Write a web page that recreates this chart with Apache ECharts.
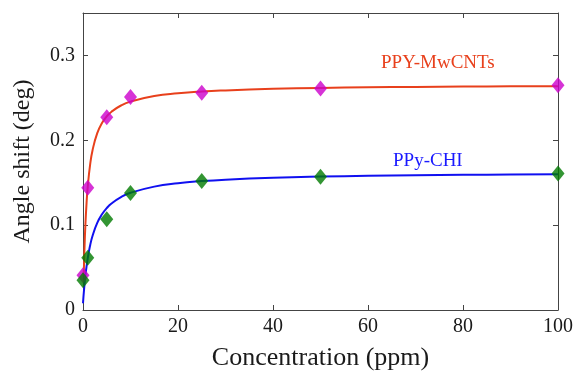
<!DOCTYPE html>
<html>
<head>
<meta charset="utf-8">
<script src="https://cdn.jsdelivr.net/npm/echarts@6/dist/echarts.min.js"></script>
<style>html,body{margin:0;padding:0;background:#fff;}#c{width:577px;height:372px;}</style>
</head>
<body>
<div id="c"></div>
<script>
// Measured points
const concPoints = [0, 1, 5, 10, 25, 50, 100];
const mwcntPoints = [0.041, 0.144, 0.227, 0.251, 0.256, 0.261, 0.265];
const chiPoints = [0.035, 0.0615, 0.107, 0.138, 0.152, 0.157, 0.161];

// Fitted curves
const mwcntFitX = [0.15, 0.3, 0.5, 0.75, 1, 1.5, 2, 3, 4, 5, 6, 8, 10, 15, 20, 25, 30, 40, 50, 60, 70, 80, 90, 100];
const mwcntFitY = [0.0407, 0.0706, 0.100, 0.1263, 0.1454, 0.1712, 0.1880, 0.2084, 0.2203, 0.2281, 0.2337, 0.2410, 0.2456, 0.2521, 0.2554, 0.2575, 0.2588, 0.2606, 0.2617, 0.2624, 0.2629, 0.2633, 0.2636, 0.2638];
const chiFitX = [0, 0.25, 0.5, 1, 1.5, 2, 3, 4, 5, 6, 8, 10, 15, 20, 25, 30, 40, 50, 60, 70, 80, 90, 100];
const chiFitY = [0.008, 0.0259, 0.0401, 0.0612, 0.0761, 0.0872, 0.1026, 0.1128, 0.1201, 0.1255, 0.1330, 0.1381, 0.1454, 0.1494, 0.1519, 0.1536, 0.1558, 0.1572, 0.1581, 0.1588, 0.1593, 0.1597, 0.1600];

const xTicks = [0, 20, 40, 60, 80, 100];
const yTicks = [0, 0.1, 0.2, 0.3];

const zip = (a, b) => a.map((v, i) => [v, b[i]]);
const font = 'Liberation Serif';
const axisColor = '#444';

const chart = echarts.init(document.getElementById('c'), null, {renderer: 'canvas'});
const baseX = {
  type: 'value', min: 0, max: 100, interval: 20,
  axisLine: {show: true, onZero: false, lineStyle: {color: axisColor, width: 1}},
  axisTick: {show: true, inside: true, length: 5, lineStyle: {color: axisColor}},
  splitLine: {show: false}
};
const baseY = {
  type: 'value', min: 0, max: 0.35, interval: 0.1,
  axisLine: {show: true, onZero: false, lineStyle: {color: axisColor, width: 1}},
  axisTick: {show: true, inside: true, length: 5, lineStyle: {color: axisColor}},
  splitLine: {show: false}
};
chart.setOption({
  animation: false,
  grid: {left: 83, right: 19, top: 13, bottom: 62, containLabel: false, outerBoundsMode: 'none'},
  xAxis: [
    Object.assign({}, baseX, {
      position: 'bottom',
      name: 'Concentration (ppm)', nameLocation: 'middle', nameGap: 35,
      nameTextStyle: {fontFamily: font, fontSize: 26, color: '#1a1a1a'},
      axisLabel: {fontFamily: font, fontSize: 20, color: '#1a1a1a', margin: 7,
        formatter: v => xTicks.includes(v) ? String(v) : ''}
    }),
    Object.assign({}, baseX, {position: 'top', axisLabel: {show: false}})
  ],
  yAxis: [
    Object.assign({}, baseY, {
      position: 'left',
      name: 'Angle shift (deg)', nameLocation: 'middle', nameGap: 48,
      nameTextStyle: {fontFamily: font, fontSize: 24, color: '#1a1a1a'},
      axisLabel: {fontFamily: font, fontSize: 20, color: '#1a1a1a', margin: 8, showMaxLabel: false,
        formatter: v => { const t = yTicks.find(k => Math.abs(k - v) < 1e-9); return t === undefined ? '' : (t === 0 ? '0' : t.toFixed(1)); }}
    }),
    Object.assign({}, baseY, {position: 'right', axisLabel: {show: false}})
  ],
  graphic: [
    {type: 'text', left: 381, top: 54, style: {text: 'PPY-MwCNTs', font: '19px "Liberation Serif"', fill: '#e8401c'}},
    {type: 'text', left: 393, top: 152, style: {text: 'PPy-CHI', font: '19px "Liberation Serif"', fill: '#1a1aff'}}
  ],
  series: [
    {type: 'line', data: zip(mwcntFitX, mwcntFitY), smooth: true, showSymbol: false, symbol: 'none',
      lineStyle: {color: '#e8401c', width: 2}, z: 2},
    {type: 'line', data: zip(chiFitX, chiFitY), smooth: true, showSymbol: false, symbol: 'none',
      lineStyle: {color: '#1010f0', width: 2}, z: 2},
    {type: 'scatter', data: zip(concPoints, mwcntPoints), symbol: 'diamond', symbolSize: [13, 16],
      itemStyle: {color: '#cc00cc'}, z: 3},
    {type: 'scatter', data: zip(concPoints, chiPoints), symbol: 'diamond', symbolSize: [13, 16],
      itemStyle: {color: '#007a00'}, z: 4}
  ]
});
</script>
</body>
</html>
